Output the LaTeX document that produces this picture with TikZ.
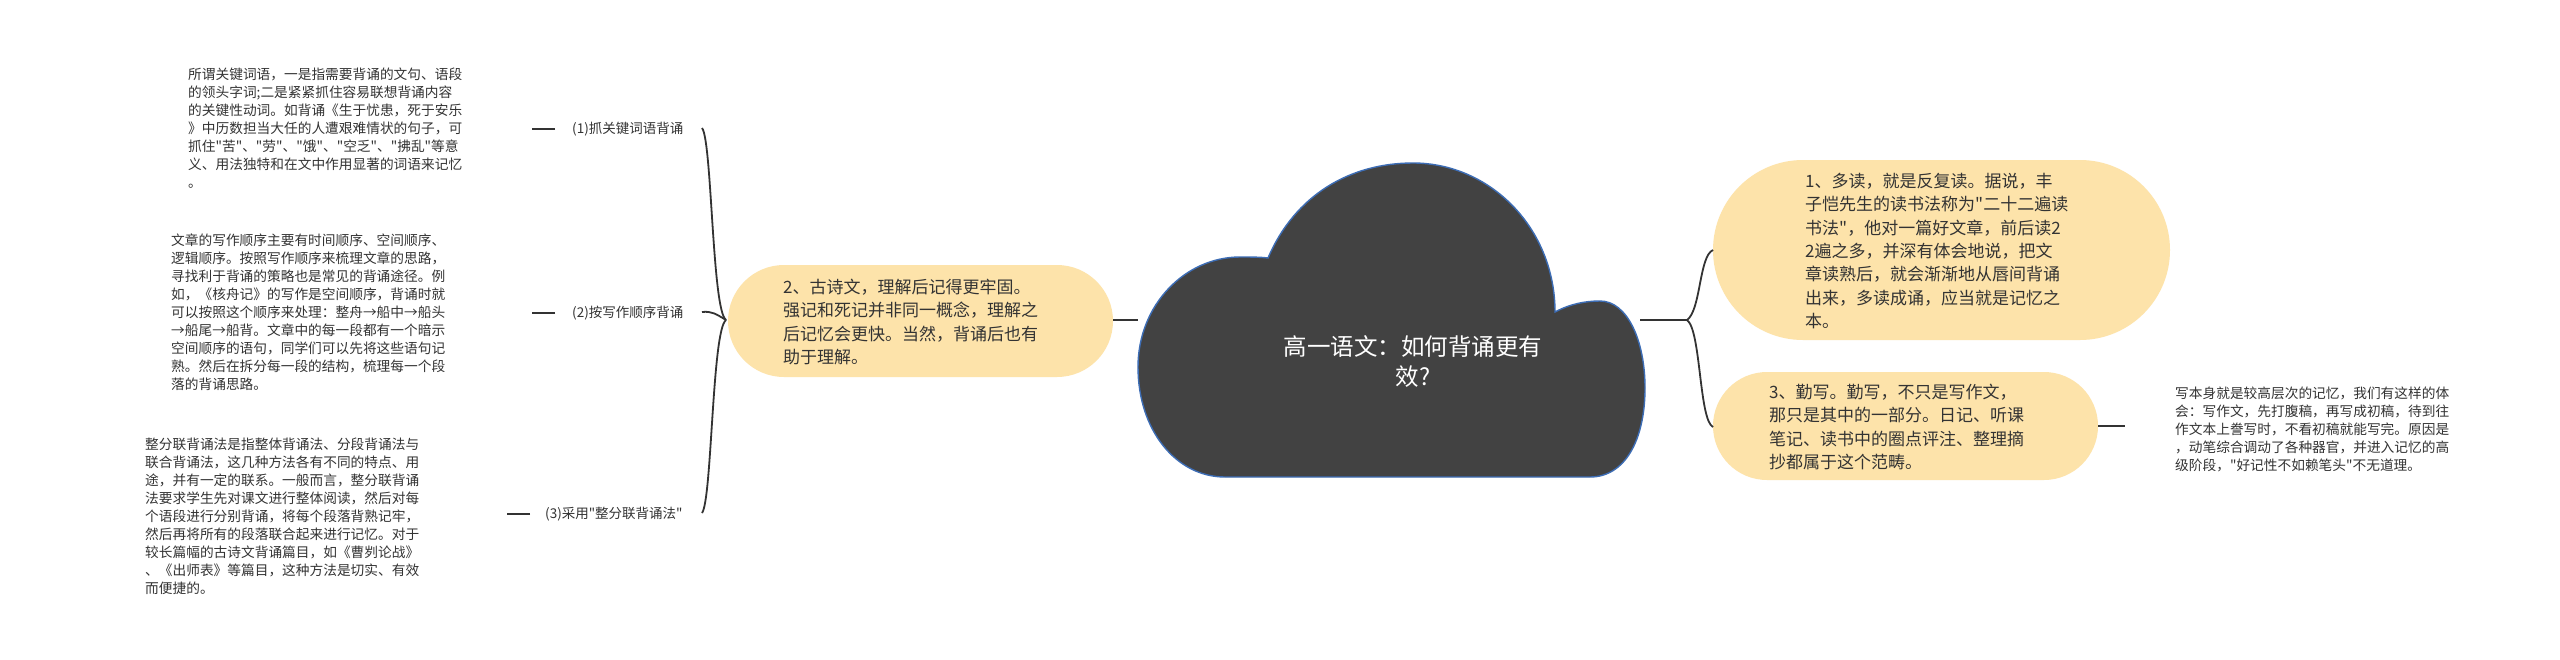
\documentclass[tikz,border=0pt]{standalone}
\usepackage{fontspec}
\setmainfont{Noto Sans CJK SC}[Ligatures=TeXOff]
\definecolor{pillfill}{HTML}{FDE3AA}
\definecolor{cloudfill}{HTML}{424242}
\definecolor{cloudedge}{HTML}{3D6DB5}
\definecolor{ink}{HTML}{333333}
\tikzset{
  pill/.style={fill=pillfill, draw=none},
  maintext/.style={anchor=west, align=left, inner sep=0pt, text=ink, font=\fontsize{17}{23.3}\selectfont},
  notetext/.style={anchor=west, align=left, inner sep=0pt, text=ink, font=\fontsize{13.7}{18}\selectfont},
  labeltext/.style={anchor=west, inner sep=0pt, text=ink, font=\fontsize{13.5}{16}\selectfont},
  conn/.style={draw=ink, line width=1.8pt},
  brace/.style={draw=ink, line width=1.8pt},
}
\begin{document}
\begin{tikzpicture}[x=1pt,y=-1pt]
\useasboundingbox (0,0) rectangle (2560,659);
\fill[white] (0,0) rectangle (2560,659);

% cloud
\draw[fill=cloudfill, draw=cloudedge, line width=1.4pt]
  (1268,258) .. controls (1295,195) and (1350,163) .. (1413,163)
  .. controls (1490,163) and (1555,228) .. (1555,312)
  .. controls (1570,304) and (1585,301) .. (1600,301)
  .. controls (1627,301) and (1645,340) .. (1645,388)
  .. controls (1645,440) and (1625,477) .. (1590,477)
  -- (1225,477)
  .. controls (1176,477) and (1138,430) .. (1138,367)
  .. controls (1138,305) and (1185,257) .. (1240,257)
  .. controls (1250,257) and (1260,257) .. (1268,258) -- cycle;
\node[align=center, inner sep=0pt, text=white, font=\fontsize{23.5}{30}\selectfont] (root) at (1413,362) {高一语文：如何背诵更有\\效?};
\coordinate (cloudL) at (1138,320);
\coordinate (cloudR) at (1640,320);

% node 2 (left)
\draw[pill, rounded corners=56pt] (728,265) rectangle (1113,377);
\coordinate (n2W) at (726,320);
\coordinate (n2E) at (1113,320);
\node[maintext] (n2) at (783,322) {2、古诗文，理解后记得更牢固。\\强记和死记并非同一概念，理解之\\后记忆会更快。当然，背诵后也有\\助于理解。};
\draw[conn] (n2E) -- (cloudL);

% node 1 (right top)
\draw[pill, rounded corners=90pt] (1713,160) rectangle (2170,340);
\node[maintext] (n1) at (1805,251) {1、多读，就是反复读。据说，丰\\子恺先生的读书法称为"二十二遍读\\书法"，他对一篇好文章，前后读2\\2遍之多，并深有体会地说，把文\\章读熟后，就会渐渐地从唇间背诵\\出来，多读成诵，应当就是记忆之\\本。};
\coordinate (n1W) at (1713,250);

% node 3 (right bottom)
\draw[pill, rounded corners=54pt] (1713,372) rectangle (2098,480);
\node[maintext] (n3) at (1769,427) {3、勤写。勤写，不只是写作文，\\那只是其中的一部分。日记、听课\\笔记、读书中的圈点评注、整理摘\\抄都属于这个范畴。};
\coordinate (n3W) at (1713,427);
\coordinate (n3E) at (2098,426);

% right brace
\coordinate (rtip) at (1687,320);
\draw[conn] (cloudR) -- (rtip);
\draw[brace] (rtip) .. controls (1701,310) and (1699,256) .. (n1W);
\draw[brace] (rtip) .. controls (1701,330) and (1699,420) .. (n3W);

% note for node 3
\node[notetext] (note3) at (2175,429.5) {写本身就是较高层次的记忆，我们有这样的体\\会：写作文，先打腹稿，再写成初稿，待到往\\作文本上誊写时，不看初稿就能写完。原因是\\，动笔综合调动了各种器官，并进入记忆的高\\级阶段，"好记性不如赖笔头"不无道理。};
\coordinate (note3W) at (2125,426);
\draw[conn, line width=1.6pt] (n3E) -- (note3W);

% left labels
\node[labeltext] (l1) at (572,129) {(1)抓关键词语背诵};
\node[labeltext] (l2) at (572,313) {(2)按写作顺序背诵};
\node[labeltext] (l3) at (545,514) {(3)采用"整分联背诵法"};
\coordinate (l1E) at (702,128);
\coordinate (l2E) at (702,312);
\coordinate (l3E) at (702,513);

% left brace
\draw[brace] (n2W) .. controls (712,310) and (712,140) .. (l1E);
\draw[brace] (n2W) .. controls (716,314) and (712,311) .. (l2E);
\draw[brace] (n2W) .. controls (712,330) and (712,500) .. (l3E);

% short lines to notes
\coordinate (a1) at (555,129); \coordinate (b1) at (532,129);
\coordinate (a2) at (555,313); \coordinate (b2) at (532,313);
\coordinate (a3) at (530,514); \coordinate (b3) at (507,514);
\draw[conn, line width=1.6pt] (a1) -- (b1);
\draw[conn, line width=1.6pt] (a2) -- (b2);
\draw[conn, line width=1.6pt] (a3) -- (b3);

% notes left
\node[notetext] (note1) at (188,128.5) {所谓关键词语，一是指需要背诵的文句、语段\\的领头字词;二是紧紧抓住容易联想背诵内容\\的关键性动词。如背诵《生于忧患，死于安乐\\》中历数担当大任的人遭艰难情状的句子，可\\抓住"苦"、"劳"、"饿"、"空乏"、"拂乱"等意\\义、用法独特和在文中作用显著的词语来记忆\\。};
\node[notetext] (note2) at (171,312.5) {文章的写作顺序主要有时间顺序、空间顺序、\\逻辑顺序。按照写作顺序来梳理文章的思路，\\寻找利于背诵的策略也是常见的背诵途径。例\\如，《核舟记》的写作是空间顺序，背诵时就\\可以按照这个顺序来处理：整舟→船中→船头\\→船尾→船背。文章中的每一段都有一个暗示\\空间顺序的语句，同学们可以先将这些语句记\\熟。然后在拆分每一段的结构，梳理每一个段\\落的背诵思路。};
\node[notetext] (note3l) at (145,516) {整分联背诵法是指整体背诵法、分段背诵法与\\联合背诵法，这几种方法各有不同的特点、用\\途，并有一定的联系。一般而言，整分联背诵\\法要求学生先对课文进行整体阅读，然后对每\\个语段进行分别背诵，将每个段落背熟记牢，\\然后再将所有的段落联合起来进行记忆。对于\\较长篇幅的古诗文背诵篇目，如《曹刿论战》\\、《出师表》等篇目，这种方法是切实、有效\\而便捷的。};
\end{tikzpicture}
\end{document}
